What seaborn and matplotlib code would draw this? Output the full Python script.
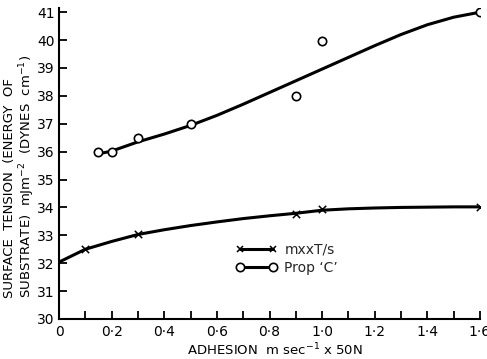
import numpy as np
import pandas as pd
import matplotlib
matplotlib.use("Agg")
import matplotlib.pyplot as plt
from matplotlib.lines import Line2D
from matplotlib.ticker import FixedLocator
import seaborn as sns

# ---- data ----
mxx_x = [0.1, 0.3, 0.9, 1.0, 1.6]
mxx_y = [32.5, 33.04, 33.78, 33.93, 34.0]
mxx_curve_x = [0.0, 0.1, 0.2, 0.3, 0.4, 0.5, 0.6, 0.7, 0.8, 0.9, 1.0, 1.1, 1.2, 1.3, 1.4, 1.5, 1.6]
mxx_curve_y = [32.04, 32.5, 32.78, 33.03, 33.2, 33.35, 33.48, 33.6, 33.7, 33.79, 33.9,
               33.95, 33.98, 34.0, 34.01, 34.02, 34.02]

propc_x = [0.15, 0.2, 0.3, 0.5, 0.9, 1.0, 1.6]
propc_y = [36.0, 36.0, 36.5, 37.0, 38.0, 39.97, 41.0]
propc_curve_x = [0.15, 0.2, 0.3, 0.4, 0.5, 0.6, 0.7, 0.8, 0.9, 1.0, 1.1, 1.2, 1.3, 1.4, 1.5, 1.6]
propc_curve_y = [35.92, 36.02, 36.35, 36.63, 36.94, 37.3, 37.7, 38.12, 38.54, 38.96, 39.38,
                 39.8, 40.2, 40.55, 40.82, 41.0]

xtick_vals = [0, 0.2, 0.4, 0.6, 0.8, 1.0, 1.2, 1.4, 1.6]
xtick_labels = ["0", "0·2", "0·4", "0·6", "0·8", "1·0", "1·2", "1·4", "1·6"]
xminor_vals = [0.1, 0.3, 0.5, 0.7, 0.9, 1.1, 1.3, 1.5]
ytick_vals = list(range(30, 42))
series_names = ["mxxT/s", "Prop ‘C’"]

sns.set_theme(style="white")
plt.rcParams["font.family"] = ["DejaVu Sans"]

fig = plt.figure(figsize=(4.87, 3.59), dpi=100)
ax = fig.add_axes([59 / 487, 1 - 319 / 359, (480 - 59) / 487, (319 - 8) / 359])

lw = 2.2
sns.lineplot(x=mxx_curve_x, y=mxx_curve_y, ax=ax, color="black", lw=lw, sort=False)
sns.lineplot(x=propc_curve_x, y=propc_curve_y, ax=ax, color="black", lw=lw, sort=False)
sns.scatterplot(x=mxx_x, y=mxx_y, ax=ax, marker="x", color="black", s=28, linewidth=1.1, zorder=5)
sns.scatterplot(x=propc_x, y=propc_y, ax=ax, marker="o", facecolor="white", edgecolor="black",
                s=36, linewidth=1.2, zorder=5)

ax.set_xlim(0, 1.6)
ax.set_ylim(30, 41.15)
ax.set_xticks(xtick_vals)
ax.set_xticklabels(xtick_labels)
ax.xaxis.set_minor_locator(FixedLocator(xminor_vals))
ax.set_yticks(ytick_vals)
ax.set_yticklabels([str(v) for v in ytick_vals])

for s in ["top", "right"]:
    ax.spines[s].set_visible(False)
for s in ["left", "bottom"]:
    ax.spines[s].set_color("black")
    ax.spines[s].set_linewidth(1.5)

ax.tick_params(axis="both", which="both", direction="in", length=5.5, width=1.3,
               color="black", labelcolor="black", labelsize=10)
ax.tick_params(axis="x", which="both", bottom=True, pad=4)
ax.tick_params(axis="y", which="both", left=True, pad=3)
ax.set_xlabel("")
ax.set_ylabel("")

fig.text(0.5 * (173 + 377) / 487, 1 - 350 / 359, "ADHESION  m sec$^{-1}$ x 50N",
         ha="center", va="center", fontsize=9.5, color="black")
fig.text(20 / 487, 1 - 298 / 359,
         "SURFACE  TENSION  (ENERGY  OF\nSUBSTRATE)  mJm$^{-2}$  (DYNES  cm$^{-1}$)",
         rotation=90, ha="center", va="bottom", multialignment="left",
         fontsize=9.5, linespacing=1.05, color="black")

handles = [
    Line2D([], [], color="black", lw=lw, marker="x", markersize=5, markeredgewidth=1.1),
    Line2D([], [], color="black", lw=lw, marker="o", markersize=6, markerfacecolor="white",
           markeredgewidth=1.2),
]
ax.legend(handles, series_names, loc="upper left", bbox_to_anchor=(0.42, 0.245),
          frameon=False, numpoints=2, handlelength=3.0, handletextpad=0.5,
          borderaxespad=0, borderpad=0, labelspacing=0.3, fontsize=10)

fig.savefig("out.png", dpi=100)
